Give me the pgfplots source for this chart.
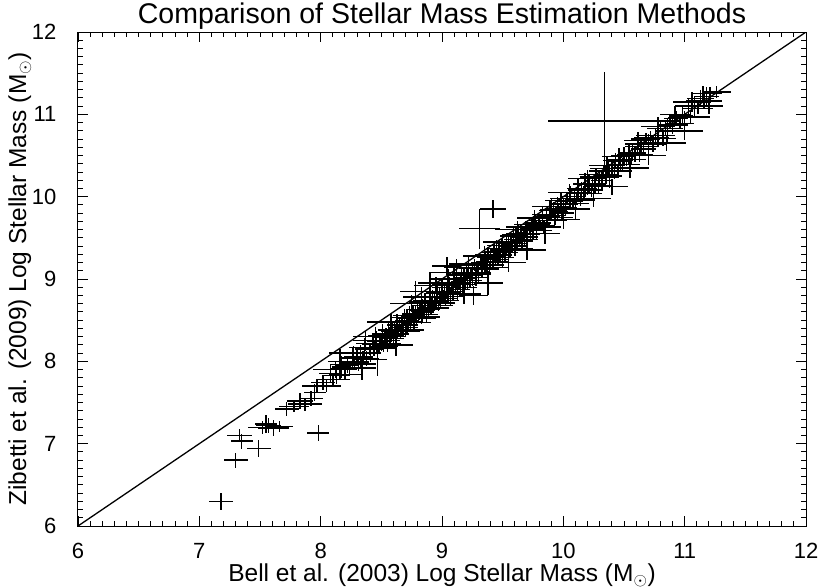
\documentclass[border=0pt]{standalone}
\usepackage{pgfplots}
\pgfplotsset{compat=1.18}
\usepackage{pgfplotstable}
\usepackage{fontspec}
\setmainfont{Liberation Sans}

\pgfplotstableread{
x y ex ey
7.18 6.30 0.10 0.10
7.30 6.80 0.10 0.09
7.35 7.03 0.09 0.09
7.33 7.10 0.10 0.08
7.49 6.94 0.10 0.10
7.98 7.13 0.09 0.10
7.52 7.20 0.12 0.08
7.57 7.22 0.10 0.09
7.61 7.19 0.13 0.10
7.66 7.21 0.11 0.07
7.55 7.24 0.09 0.11
7.72 7.42 0.10 0.09
7.78 7.45 0.12 0.07
7.83 7.52 0.11 0.10
7.87 7.48 0.14 0.08
7.92 7.55 0.10 0.09
7.95 7.62 0.09 0.10
7.97 7.70 0.12 0.08
8.02 7.74 0.10 0.09
8.05 7.70 0.12 0.07
8.08 7.85 0.09 0.11
8.10 7.78 0.14 0.08
8.12 7.90 0.18 0.10
8.13 7.83 0.11 0.10
8.16 7.96 0.08 0.19
8.16 8.00 0.10 0.09
8.17 7.93 0.08 0.13
8.20 7.84 0.13 0.06
8.22 7.95 0.10 0.09
8.24 7.91 0.16 0.08
8.26 8.04 0.09 0.12
8.27 8.10 0.20 0.09
8.28 7.99 0.12 0.07
8.30 8.06 0.11 0.10
8.31 7.97 0.15 0.09
8.33 8.06 0.10 0.14
8.34 7.92 0.12 0.15
8.35 8.05 0.08 0.08
8.36 8.17 0.13 0.11
8.37 8.25 0.10 0.12
8.38 8.03 0.10 0.09
8.40 8.15 0.12 0.07
8.41 8.10 0.09 0.11
8.43 8.22 0.14 0.08
8.44 8.16 0.11 0.10
8.45 8.30 0.18 0.12
8.46 8.24 0.08 0.13
8.47 8.02 0.08 0.20
8.48 8.16 0.13 0.06
8.49 8.24 0.10 0.09
8.50 8.21 0.16 0.08
8.51 8.33 0.09 0.12
8.52 8.18 0.12 0.07
8.53 8.29 0.11 0.10
8.54 8.31 0.15 0.09
8.55 8.25 0.10 0.14
8.56 8.38 0.08 0.08
8.57 8.30 0.13 0.11
8.58 8.33 0.10 0.09
8.58 8.48 0.20 0.10
8.59 8.39 0.12 0.07
8.60 8.28 0.09 0.11
8.61 8.38 0.14 0.08
8.62 8.33 0.11 0.10
8.62 8.20 0.14 0.13
8.63 8.44 0.08 0.13
8.64 8.38 0.13 0.06
8.65 8.45 0.10 0.09
8.66 8.36 0.16 0.08
8.67 8.44 0.09 0.12
8.68 8.41 0.12 0.07
8.69 8.53 0.11 0.10
8.70 8.38 0.15 0.09
8.71 8.49 0.10 0.14
8.72 8.44 0.08 0.08
8.73 8.56 0.13 0.11
8.74 8.48 0.10 0.09
8.75 8.52 0.12 0.07
8.75 8.70 0.18 0.10
8.76 8.58 0.09 0.11
8.77 8.47 0.14 0.08
8.78 8.57 0.11 0.10
8.78 8.85 0.13 0.12
8.79 8.52 0.16 0.08
8.80 8.63 0.09 0.12
8.81 8.57 0.12 0.07
8.82 8.63 0.11 0.10
8.83 8.54 0.15 0.09
8.83 8.78 0.15 0.12
8.84 8.62 0.10 0.14
8.85 8.60 0.08 0.08
8.86 8.72 0.13 0.11
8.87 8.57 0.10 0.09
8.88 8.68 0.12 0.07
8.89 8.63 0.09 0.11
8.90 8.74 0.14 0.08
8.90 8.95 0.10 0.14
8.91 8.68 0.11 0.10
8.92 8.74 0.08 0.13
8.93 8.65 0.13 0.06
8.94 8.73 0.10 0.09
8.95 8.71 0.16 0.08
8.95 8.92 0.18 0.10
8.96 8.83 0.09 0.12
8.97 8.68 0.12 0.07
8.98 8.79 0.11 0.10
8.99 8.74 0.15 0.09
9.00 8.85 0.10 0.14
9.01 8.79 0.08 0.08
9.02 8.85 0.13 0.11
9.03 8.76 0.10 0.09
9.04 8.84 0.12 0.07
9.04 9.16 0.12 0.11
9.05 8.82 0.09 0.11
9.05 9.00 0.16 0.12
9.06 8.94 0.14 0.08
9.07 8.79 0.11 0.10
9.08 8.90 0.16 0.08
9.09 8.85 0.09 0.12
9.10 8.96 0.12 0.07
9.10 9.08 0.20 0.11
9.11 8.90 0.11 0.10
9.12 8.96 0.15 0.09
9.12 9.14 0.10 0.10
9.13 8.87 0.10 0.14
9.14 8.95 0.08 0.08
9.15 8.93 0.13 0.11
9.16 9.05 0.10 0.09
9.17 8.90 0.12 0.07
9.18 9.01 0.09 0.11
9.18 8.82 0.14 0.12
9.19 8.96 0.14 0.08
9.20 9.07 0.11 0.10
9.21 9.01 0.08 0.13
9.22 9.07 0.13 0.06
9.22 9.18 0.16 0.10
9.23 8.98 0.10 0.09
9.24 9.06 0.16 0.08
9.25 9.04 0.09 0.12
9.26 8.80 0.12 0.11
9.27 9.17 0.12 0.07
9.28 9.02 0.11 0.10
9.29 9.13 0.15 0.09
9.30 9.08 0.10 0.14
9.31 9.61 0.17 0.24
9.32 9.20 0.08 0.08
9.33 9.14 0.13 0.11
9.34 9.20 0.10 0.09
9.35 9.12 0.12 0.07
9.35 9.28 0.18 0.12
9.36 9.20 0.09 0.11
9.37 9.17 0.14 0.08
9.38 9.29 0.11 0.10
9.38 8.95 0.12 0.15
9.39 9.14 0.16 0.08
9.40 9.25 0.09 0.12
9.42 9.85 0.11 0.11
9.42 9.21 0.12 0.07
9.43 9.32 0.11 0.10
9.44 9.26 0.15 0.09
9.45 9.33 0.10 0.14
9.46 9.24 0.08 0.08
9.47 9.32 0.13 0.11
9.48 9.29 0.10 0.09
9.49 9.41 0.12 0.07
9.50 9.26 0.09 0.11
9.50 9.45 0.16 0.10
9.51 9.37 0.14 0.08
9.52 9.32 0.11 0.10
9.53 9.43 0.08 0.13
9.54 9.37 0.13 0.06
9.55 9.44 0.10 0.09
9.55 9.20 0.14 0.12
9.56 9.35 0.16 0.08
9.57 9.43 0.09 0.12
9.58 9.40 0.12 0.07
9.59 9.52 0.11 0.10
9.60 9.37 0.15 0.09
9.61 9.48 0.10 0.14
9.62 9.43 0.08 0.08
9.62 9.60 0.18 0.11
9.63 9.54 0.13 0.11
9.64 9.48 0.10 0.09
9.65 9.55 0.12 0.07
9.66 9.46 0.09 0.11
9.67 9.54 0.14 0.08
9.68 9.51 0.11 0.10
9.69 9.63 0.16 0.08
9.70 9.48 0.09 0.12
9.70 9.35 0.16 0.12
9.72 9.60 0.12 0.07
9.73 9.55 0.11 0.10
9.74 9.66 0.15 0.09
9.75 9.61 0.10 0.14
9.76 9.74 0.14 0.10
9.77 9.68 0.08 0.08
9.78 9.59 0.13 0.11
9.80 9.68 0.10 0.09
9.81 9.65 0.12 0.07
9.83 9.78 0.09 0.11
9.84 9.63 0.14 0.08
9.85 9.55 0.12 0.12
9.86 9.76 0.11 0.10
9.87 9.71 0.16 0.08
9.89 9.83 0.09 0.12
9.90 9.77 0.12 0.07
9.90 9.88 0.16 0.10
9.92 9.84 0.11 0.10
9.93 9.75 0.15 0.09
9.95 9.85 0.10 0.14
9.96 9.82 0.08 0.08
9.98 9.95 0.13 0.11
9.99 9.80 0.10 0.09
10.00 9.91 0.12 0.07
10.00 9.72 0.14 0.11
10.02 9.87 0.09 0.11
10.03 9.98 0.14 0.08
10.05 9.94 0.11 0.10
10.05 10.05 0.18 0.10
10.06 10.00 0.08 0.13
10.08 9.92 0.13 0.06
10.09 10.00 0.10 0.09
10.10 9.85 0.12 0.12
10.11 9.98 0.16 0.08
10.12 10.10 0.09 0.12
10.14 9.96 0.12 0.07
10.15 10.08 0.11 0.10
10.17 10.04 0.15 0.09
10.18 10.15 0.10 0.14
10.20 10.10 0.08 0.08
10.20 10.22 0.16 0.10
10.21 10.16 0.13 0.11
10.23 10.08 0.10 0.09
10.24 10.16 0.12 0.07
10.25 9.98 0.14 0.11
10.26 10.15 0.09 0.11
10.27 10.27 0.14 0.08
10.29 10.13 0.11 0.10
10.30 10.24 0.16 0.08
10.32 10.20 0.09 0.12
10.33 10.31 0.12 0.07
10.34 10.92 0.47 0.59
10.35 10.27 0.11 0.10
10.36 10.38 0.15 0.12
10.37 10.34 0.15 0.09
10.38 10.25 0.10 0.14
10.40 10.34 0.08 0.08
10.40 10.12 0.13 0.10
10.42 10.32 0.13 0.11
10.43 10.44 0.10 0.09
10.45 10.31 0.12 0.07
10.46 10.49 0.14 0.10
10.47 10.43 0.09 0.11
10.49 10.39 0.14 0.08
10.50 10.50 0.11 0.10
10.52 10.45 0.16 0.08
10.54 10.52 0.09 0.12
10.55 10.35 0.16 0.12
10.56 10.45 0.12 0.07
10.57 10.53 0.11 0.10
10.59 10.51 0.15 0.09
10.61 10.64 0.10 0.14
10.62 10.68 0.12 0.10
10.63 10.50 0.08 0.08
10.64 10.61 0.13 0.11
10.66 10.58 0.10 0.09
10.68 10.70 0.12 0.07
10.70 10.65 0.09 0.11
10.70 10.50 0.15 0.11
10.72 10.72 0.14 0.08
10.74 10.64 0.11 0.10
10.76 10.74 0.16 0.08
10.78 10.72 0.09 0.12
10.78 10.85 0.14 0.12
10.80 10.85 0.12 0.07
10.82 10.71 0.11 0.10
10.84 10.83 0.15 0.09
10.85 10.65 0.16 0.10
10.86 10.80 0.10 0.14
10.88 10.92 0.08 0.08
10.90 10.87 0.13 0.11
10.92 11.00 0.12 0.10
10.93 10.95 0.10 0.09
10.96 10.89 0.12 0.07
10.98 10.98 0.09 0.11
11.00 10.96 0.14 0.08
11.00 10.80 0.15 0.11
11.03 11.10 0.11 0.10
11.05 10.97 0.16 0.08
11.06 11.15 0.16 0.12
11.08 11.10 0.09 0.12
11.11 11.07 0.12 0.07
11.13 11.19 0.11 0.10
11.15 11.25 0.10 0.10
11.16 11.16 0.15 0.09
11.18 11.22 0.10 0.11
11.20 11.10 0.12 0.09
11.21 11.25 0.10 0.08
11.26 11.27 0.12 0.07
}\masses

\begin{document}
\begin{tikzpicture}
\begin{axis}[
  scale only axis,
  width=728pt, height=494pt,
  xmin=6, xmax=12, ymin=6, ymax=12,
  xtick={6,7,8,9,10,11,12},
  ytick={6,7,8,9,10,11,12},
  minor x tick num=9, minor y tick num=9,
  tick align=inside, tick pos=both,
  major tick length=10pt, minor tick length=5pt,
  every tick/.style={black, line width=0.9pt},
  axis line style={black, line width=1pt},
  /pgf/number format/assume math mode=true,
  tick label style={font=\fontsize{22}{24}\selectfont},
  xticklabel style={yshift=-14pt},
  yticklabel style={xshift=-18pt},
  title={Comparison of Stellar Mass Estimation Methods},
  title style={font=\fontsize{28.5}{31}\selectfont, at={(axis description cs:0.5,1)}, anchor=center, yshift=10pt},
  xlabel={Bell et al. (2003) Log Stellar Mass (M$_\odot$)},
  ylabel={Zibetti et al. (2009) Log Stellar Mass (M$_\odot$)},
  label style={font=\fontsize{24.5}{27}\selectfont},
  xlabel style={at={(axis description cs:0.5,-0.1)}, anchor=center},
  ylabel style={at={(axis description cs:-0.08,0.5)}, anchor=center},
  clip=true,
]
\addplot[black, line width=1.3pt] coordinates {(6,6) (12,12)};
\addplot[no markers, draw=none,
  error bars/.cd, x dir=both, x explicit, y dir=both, y explicit,
  error mark=none, error bar style={draw=black, line width=1.4pt}]
  table[x=x, y=y, x error=ex, y error=ey] {\masses};
\end{axis}
\pgfresetboundingbox
\useasboundingbox (-78pt,-61pt) rectangle (742pt,526pt);
\end{tikzpicture}
\end{document}
